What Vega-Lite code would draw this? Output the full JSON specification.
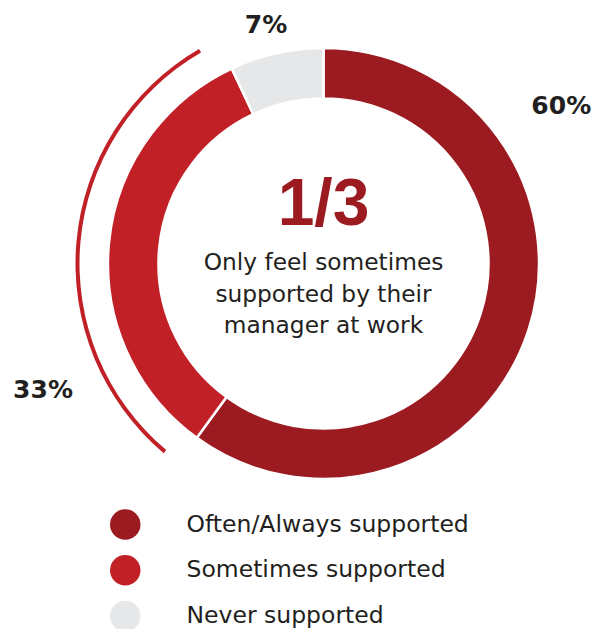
{
  "$schema": "https://vega.github.io/schema/vega-lite/v6.json",
  "width": 569,
  "height": 527,
  "autosize": {"type": "none"},
  "padding": {"left": 39, "top": 0, "right": 0, "bottom": 102},
  "background": "white",
  "config": {"view": {"stroke": null}},
  "data": {
    "values": [
      {"category": "Often/Always supported", "value": 60},
      {"category": "Sometimes supported", "value": 33},
      {"category": "Never supported", "value": 7}
    ]
  },
  "transform": [
    {"calculate": "indexof(['Often/Always supported','Sometimes supported','Never supported'], datum.category)", "as": "ord"},
    {"stack": "value", "groupby": [], "sort": [{"field": "ord", "order": "ascending"}], "as": ["v0", "v1"]},
    {"calculate": "(datum.v0 + datum.v1) / 2", "as": "mid"},
    {"calculate": "datum.value + '%'", "as": "pct"}
  ],
  "layer": [
    {
      "mark": {"type": "arc", "radius": 215.5, "radius2": 165, "stroke": "white", "strokeWidth": 2.5},
      "encoding": {
        "theta": {"field": "v0", "type": "quantitative", "stack": false, "scale": {"domain": [0, 100]}},
        "theta2": {"field": "v1"},
        "color": {
          "field": "category",
          "type": "nominal",
          "scale": {
            "domain": ["Often/Always supported", "Sometimes supported", "Never supported"],
            "range": ["#9B1B21", "#C12026", "#E6E7E8"]
          },
          "legend": {
            "orient": "none",
            "legendX": 70.75,
            "legendY": 509,
            "title": null,
            "padding": 0,
            "symbolType": "circle",
            "symbolSize": 930,
            "symbolStrokeWidth": 0,
            "symbolOpacity": 1,
            "labelFont": "DejaVu Sans",
            "labelFontSize": 23.5,
            "labelColor": "#231F20",
            "labelOffset": 45.75,
            "labelLimit": 500,
            "rowPadding": 14.8
          }
        }
      }
    },
    {
      "transform": [{"filter": "datum.category == 'Sometimes supported'"}],
      "mark": {"type": "arc", "radius": 248, "radius2": 244, "thetaOffset": 0.072, "theta2Offset": -0.086, "fill": "#C12026"},
      "encoding": {
        "theta": {"field": "v0", "type": "quantitative", "stack": false, "scale": {"domain": [0, 100]}},
        "theta2": {"field": "v1"}
      }
    },
    {
      "transform": [{"filter": "datum.category == 'Often/Always supported'"}],
      "mark": {"type": "text", "radius": 250, "dx": 0, "dy": -226.5, "align": "center", "baseline": "alphabetic", "font": "DejaVu Sans", "fontWeight": "bold", "fontSize": 25, "color": "#231F20"},
      "encoding": {
        "theta": {"field": "mid", "type": "quantitative", "stack": false, "scale": {"domain": [0, 100]}},
        "text": {"field": "pct", "type": "nominal"}
      }
    },
    {
      "transform": [{"filter": "datum.category == 'Never supported'"}],
      "mark": {"type": "text", "radius": 250, "dx": -3, "dy": 13, "align": "center", "baseline": "alphabetic", "font": "DejaVu Sans", "fontWeight": "bold", "fontSize": 25, "color": "#231F20"},
      "encoding": {
        "theta": {"field": "mid", "type": "quantitative", "stack": false, "scale": {"domain": [0, 100]}},
        "text": {"field": "pct", "type": "nominal"}
      }
    },
    {
      "transform": [{"filter": "datum.category == 'Sometimes supported'"}],
      "mark": {"type": "text", "radius": 250, "dx": -31.6, "dy": 158.4, "align": "center", "baseline": "alphabetic", "font": "DejaVu Sans", "fontWeight": "bold", "fontSize": 25, "color": "#231F20"},
      "encoding": {
        "theta": {"field": "mid", "type": "quantitative", "stack": false, "scale": {"domain": [0, 100]}},
        "text": {"field": "pct", "type": "nominal"}
      }
    },
    {
      "transform": [{"filter": "datum.category == 'Sometimes supported'"}],
      "mark": {"type": "text", "text": "1/3", "dy": -38.5, "align": "center", "baseline": "alphabetic", "font": "Liberation Sans", "fontWeight": "bold", "fontSize": 66, "color": "#9B1B21"},
      "encoding": {}
    },
    {
      "transform": [{"filter": "datum.category == 'Sometimes supported'"}],
      "mark": {"type": "text", "text": ["Only feel sometimes", "supported by their", "manager at work"], "dy": 6.5, "lineHeight": 31.5, "align": "center", "baseline": "alphabetic", "font": "DejaVu Sans", "fontSize": 23.3, "color": "#231F20"},
      "encoding": {}
    }
  ]
}
